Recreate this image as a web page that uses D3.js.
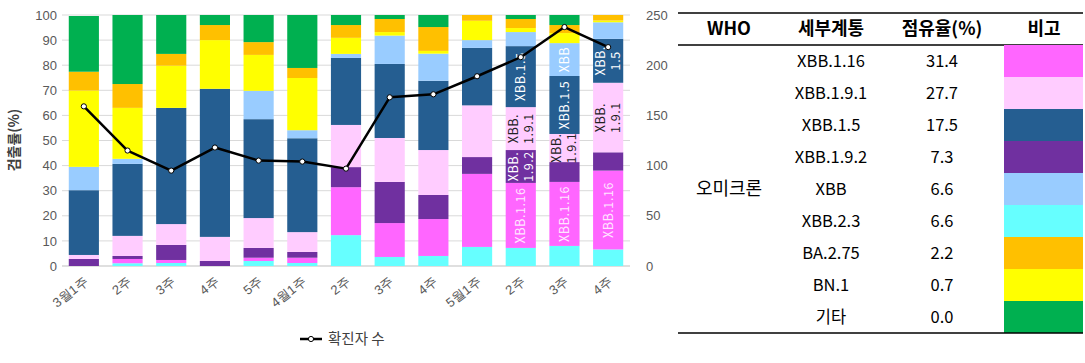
<!DOCTYPE html>
<html>
<head>
<meta charset="utf-8">
<script src="https://cdn.jsdelivr.net/npm/d3@7"></script>
<style>
  body { margin: 0; background: #fff; }
  svg { display: block; font-family: "Noto Sans CJK KR", "Noto Sans", sans-serif; }
</style>
</head>
<body>
<div id="chart"></div>
<script>
// weeks on the x axis (labels repeat, so the index is used as the band key)
const weeks = ["3월1주", "2주", "3주", "4주", "5주", "4월1주", "2주", "3주", "4주", "5월1주", "2주", "3주", "4주"];

// share (%) per lineage, stacked bottom to top
const xbb23  = [0, 1.1, 1.2, 0, 2.0, 1.2, 12.3, 3.6, 4.0, 7.6, 7.2, 8.0, 6.6];
const xbb116 = [0, 1.7, 1.2, 0, 1.3, 2.1, 19.1, 13.5, 14.7, 29.1, 25.9, 25.5, 31.4];
const xbb192 = [2.8, 1.2, 6.0, 2.0, 3.9, 2.3, 8.0, 16.4, 9.6, 6.7, 13.1, 7.9, 7.3];
const xbb191 = [1.6, 8.0, 8.3, 9.6, 11.9, 7.9, 16.8, 17.5, 17.9, 20.6, 17.1, 11.2, 27.7];
const xbb15  = [25.8, 28.7, 46.3, 59.0, 39.4, 37.4, 26.7, 29.5, 27.6, 22.9, 24.3, 23.1, 17.5];
const xbb    = [9.3, 2.0, 0, 0, 11.3, 3.2, 1.6, 11.3, 10.8, 3.1, 5.6, 13.1, 6.6];
const bn1    = [30.4, 20.3, 16.8, 19.4, 14.3, 20.8, 6.4, 1.4, 1.1, 7.7, 1.6, 4.0, 0.7];
const ba275  = [7.5, 9.5, 4.7, 6.0, 5.1, 4.0, 5.1, 5.2, 9.5, 2.3, 3.6, 3.2, 2.2];
const etc    = [22.2, 27.5, 15.5, 4.0, 10.8, 21.1, 4.0, 1.6, 4.8, 0, 1.6, 4.0, 0.0];

// confirmed cases line (right axis)
const cases = [159, 115, 95, 118, 105, 104, 97, 168, 171, 189, 208, 238, 218];

const leftTicks = [0, 10, 20, 30, 40, 50, 60, 70, 80, 90, 100];
const rightTicks = [0, 50, 100, 150, 200, 250];

// labels written inside some segments: [week index, series key, lines]
const barLabels = [
  [10, "xbb116", ["XBB.1.16"]], [10, "xbb192", ["XBB.", "1.9.2"]], [10, "xbb191", ["XBB.", "1.9.1"]], [10, "xbb15", ["XBB.1.5"]],
  [11, "xbb116", ["XBB.1.16"]], [11, "xbb191", ["XBB.", "1.9.1"]], [11, "xbb15", ["XBB.1.5"]], [11, "xbb", ["XBB"]],
  [12, "xbb116", ["XBB.1.16"]], [12, "xbb191", ["XBB.", "1.9.1"]], [12, "xbb15", ["XBB.", "1.5"]]
];

// table on the right
const tableHeader = ["WHO", "세부계통", "점유율(%)", "비고"];
const tableGroup = "오미크론";
const tableLineages = ["XBB.1.16", "XBB.1.9.1", "XBB.1.5", "XBB.1.9.2", "XBB", "XBB.2.3", "BA.2.75", "BN.1", "기타"];
const tableShares = ["31.4", "27.7", "17.5", "7.3", "6.6", "6.6", "2.2", "0.7", "0.0"];
const tableKeys = ["xbb116", "xbb191", "xbb15", "xbb192", "xbb", "xbb23", "ba275", "bn1", "etc"];

const seriesKeys = ["xbb23", "xbb116", "xbb192", "xbb191", "xbb15", "xbb", "bn1", "ba275", "etc"];
const seriesValues = { xbb23, xbb116, xbb192, xbb191, xbb15, xbb, bn1, ba275, etc };
const colors = {
  xbb23: "#66FFFF", xbb116: "#FF66FF", xbb192: "#7030A0", xbb191: "#FFCCFF", xbb15: "#255E91",
  xbb: "#99CCFF", bn1: "#FFFF00", ba275: "#FFC000", etc: "#00B050"
};
const labelColors = { xbb116: "#FFE6FF", xbb192: "#FFFFFF", xbb191: "#222222", xbb15: "#FFFFFF", xbb: "#FFFFFF" };

const W = 1085, H = 363;
const margin = { top: 15, left: 62 };
const plotW = 568, plotH = 251;

const svg = d3.select("#chart").append("svg")
  .attr("width", W).attr("height", H);

const g = svg.append("g").attr("transform", `translate(${margin.left},${margin.top})`);

const rows = weeks.map((w, i) => {
  const o = { idx: i };
  seriesKeys.forEach(k => { o[k] = seriesValues[k][i]; });
  return o;
});
const stacked = d3.stack().keys(seriesKeys)(rows);

const x = d3.scaleBand().domain(d3.range(weeks.length)).range([0, plotW]).paddingInner(0.31).paddingOuter(0.155);
const y = d3.scaleLinear().domain([0, 100]).range([plotH, 0]);
const y2 = d3.scaleLinear().domain([0, 250]).range([plotH, 0]);

// gridlines
g.append("g").selectAll("line").data(leftTicks).join("line")
  .attr("x1", 0).attr("x2", plotW)
  .attr("y1", d => y(d)).attr("y2", d => y(d))
  .attr("stroke", d => d === 0 ? "#BFBFBF" : "#D9D9D9").attr("stroke-width", 1);

// stacked bars
g.append("g").selectAll("g").data(stacked).join("g")
  .attr("fill", d => colors[d.key])
  .selectAll("rect").data(d => d).join("rect")
  .attr("x", d => x(d.data.idx))
  .attr("y", d => y(d[1]))
  .attr("width", x.bandwidth())
  .attr("height", d => y(d[0]) - y(d[1]));

// labels inside segments
const segLookup = {};
stacked.forEach(s => { segLookup[s.key] = s; });
barLabels.forEach(([i, key, lines]) => {
  const seg = segLookup[key][i];
  const cx = x(i) + x.bandwidth() / 2;
  const cy = (y(seg[0]) + y(seg[1])) / 2;
  const t = g.append("text")
    .attr("transform", `translate(${cx},${cy}) rotate(-90)`)
    .attr("text-anchor", "middle")
    .attr("font-size", 12.5)
    .attr("letter-spacing", 0.6)
    .attr("fill", labelColors[key]);
  const n = lines.length;
  lines.forEach((ln, j) => {
    t.append("tspan").attr("x", 0)
      .attr("dy", j === 0 ? (0.35 - (n - 1) * 0.6) + "em" : "1.2em")
      .text(ln);
  });
});

// left axis
const axL = g.append("g").call(d3.axisLeft(y).tickValues(leftTicks).tickSize(0).tickPadding(5));
axL.select(".domain").remove();
axL.selectAll("text").attr("font-size", 13).attr("fill", "#595959");

// right axis
const axR = g.append("g").attr("transform", `translate(${plotW},0)`)
  .call(d3.axisRight(y2).tickValues(rightTicks).tickSize(0).tickPadding(16));
axR.select(".domain").remove();
axR.selectAll("text").attr("font-size", 13).attr("fill", "#595959");

// bottom axis
const axB = g.append("g").attr("transform", `translate(0,${plotH})`)
  .call(d3.axisBottom(x).tickFormat(i => weeks[i]).tickSize(0));
axB.select(".domain").remove();
axB.selectAll("text")
  .attr("font-size", 13).attr("fill", "#595959")
  .attr("text-anchor", "end")
  .attr("dy", 0).attr("y", 0)
  .attr("transform", "translate(5,17) rotate(-38)");

// line of confirmed cases
const line = d3.line().x((d, i) => x(i) + x.bandwidth() / 2).y(d => y2(d));
g.append("path").datum(cases)
  .attr("d", line).attr("fill", "none")
  .attr("stroke", "#000").attr("stroke-width", 2.5).attr("stroke-linejoin", "round");
g.append("g").selectAll("circle").data(cases).join("circle")
  .attr("cx", (d, i) => x(i) + x.bandwidth() / 2)
  .attr("cy", d => y2(d))
  .attr("r", 2.6).attr("fill", "#fff").attr("stroke", "#000").attr("stroke-width", 1);

// y title
svg.append("text")
  .attr("transform", "translate(19,140) rotate(-90)")
  .attr("text-anchor", "middle")
  .attr("font-size", 14).attr("font-weight", "bold").attr("fill", "#404040")
  .text("검출률(%)");

// legend
const lg = svg.append("g").attr("transform", "translate(300,339)");
lg.append("line").attr("x1", 0).attr("x2", 22).attr("stroke", "#000").attr("stroke-width", 2.5);
lg.append("circle").attr("cx", 11).attr("r", 2.6).attr("fill", "#fff").attr("stroke", "#000");
lg.append("text").attr("x", 28).attr("dy", "0.35em")
  .attr("font-size", 14.5).attr("fill", "#404040").text("확진자 수");

// table
const tX0 = 678, tX1 = 1083;
const colCenters = [729, 831, 942, 1044];
const swatchX = 1004;
const headTop = 13, headBottom = 45, rowH = 32;
const tbl = svg.append("g");

tbl.append("line").attr("x1", tX0).attr("x2", tX1).attr("y1", headTop).attr("y2", headTop)
  .attr("stroke", "#000").attr("stroke-width", 1.5);
tbl.append("line").attr("x1", tX0).attr("x2", tX1).attr("y1", headBottom).attr("y2", headBottom)
  .attr("stroke", "#000").attr("stroke-width", 1.5);

tbl.selectAll("text.h").data(tableHeader).join("text").attr("class", "h")
  .attr("x", (d, i) => colCenters[i]).attr("y", (headTop + headBottom) / 2)
  .attr("dy", "0.36em").attr("text-anchor", "middle")
  .attr("font-size", 18).attr("font-weight", "bold").attr("fill", "#000")
  .text(d => d);

const rowY = d3.scaleBand().domain(d3.range(tableLineages.length))
  .range([headBottom, headBottom + rowH * tableLineages.length]);

tbl.selectAll("rect").data(tableKeys).join("rect")
  .attr("x", swatchX).attr("width", tX1 - swatchX)
  .attr("y", (d, i) => rowY(i)).attr("height", rowY.bandwidth())
  .attr("fill", d => colors[d]);

tbl.selectAll("text.l").data(tableLineages).join("text").attr("class", "l")
  .attr("x", colCenters[1]).attr("y", (d, i) => rowY(i) + rowY.bandwidth() / 2)
  .attr("dy", "0.36em").attr("text-anchor", "middle")
  .attr("font-size", 16.5).attr("fill", "#000").text(d => d);

tbl.selectAll("text.s").data(tableShares).join("text").attr("class", "s")
  .attr("x", colCenters[2]).attr("y", (d, i) => rowY(i) + rowY.bandwidth() / 2)
  .attr("dy", "0.36em").attr("text-anchor", "middle")
  .attr("font-size", 16.5).attr("fill", "#000").text(d => d);

tbl.append("text")
  .attr("x", colCenters[0]).attr("y", headBottom + rowH * tableLineages.length / 2)
  .attr("dy", "0.36em").attr("text-anchor", "middle")
  .attr("font-size", 18).attr("fill", "#000").text(tableGroup);

const tBottom = headBottom + rowH * tableLineages.length;
tbl.append("line").attr("x1", tX0).attr("x2", tX1).attr("y1", tBottom).attr("y2", tBottom)
  .attr("stroke", "#000").attr("stroke-width", 1.5);
</script>
</body>
</html>
